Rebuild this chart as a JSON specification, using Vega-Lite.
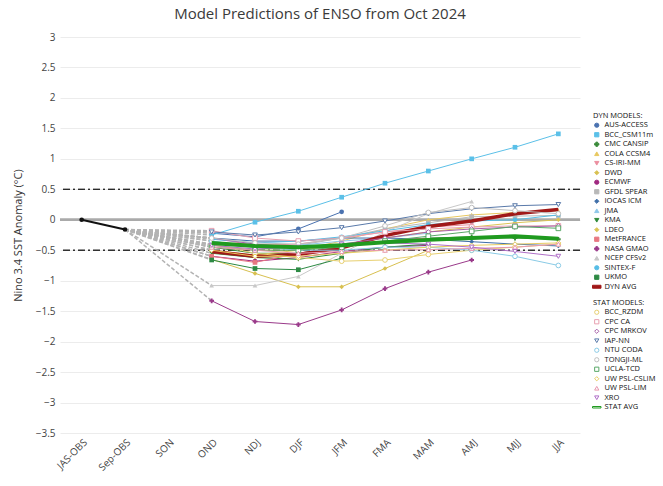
{
"$schema":"https://vega.github.io/schema/vega-lite/v6.json",
"width":520,"height":396,
"autosize":"none",
"padding":{"left":60,"top":37,"right":83,"bottom":53},
"title":{"text":"Model Predictions of ENSO from Oct 2024","fontSize":15,"fontWeight":"normal","color":"#3a3a3a","font":"Open Sans","anchor":"middle","frame":"group","offset":10},
"config":{"view":{"stroke":null},"font":"Open Sans",
"axis":{"labelFont":"Open Sans","labelFontSize":10,"labelColor":"#444","gridColor":"#ececec","domain":false,"ticks":false,"titleFont":"Open Sans","titleFontWeight":"normal","titleColor":"#333","labelOverlap":false},
"legend":{"labelFontSize":7.5,"labelColor":"#111","titleFontSize":7.5,"titleColor":"#111","titleFontWeight":"normal","symbolSize":18,"symbolStrokeWidth":1,"rowPadding":0.5,"titlePadding":2,"labelOffset":4,"labelLimit":120,"padding":0}},
"datasets":{
"obs":[{"s":"JAS-OBS","v":0},{"s":"Sep-OBS","v":-0.16}],
"d":[
{"m":"AUS-ACCESS","g":"D","s":"Sep-OBS","v":-0.16},{"m":"AUS-ACCESS","g":"D","s":"OND","v":-0.22},{"m":"AUS-ACCESS","g":"D","s":"NDJ","v":-0.28},{"m":"AUS-ACCESS","g":"D","s":"DJF","v":-0.15},{"m":"AUS-ACCESS","g":"D","s":"JFM","v":0.13},
{"m":"BCC_CSM11m","g":"D","s":"Sep-OBS","v":-0.16},{"m":"BCC_CSM11m","g":"D","s":"OND","v":-0.25},{"m":"BCC_CSM11m","g":"D","s":"NDJ","v":-0.04},{"m":"BCC_CSM11m","g":"D","s":"DJF","v":0.14},{"m":"BCC_CSM11m","g":"D","s":"JFM","v":0.37},{"m":"BCC_CSM11m","g":"D","s":"FMA","v":0.6},{"m":"BCC_CSM11m","g":"D","s":"MAM","v":0.8},{"m":"BCC_CSM11m","g":"D","s":"AMJ","v":1.0},{"m":"BCC_CSM11m","g":"D","s":"MJJ","v":1.19},{"m":"BCC_CSM11m","g":"D","s":"JJA","v":1.41},
{"m":"CMC CANSIP","g":"D","s":"Sep-OBS","v":-0.16},{"m":"CMC CANSIP","g":"D","s":"OND","v":-0.45},{"m":"CMC CANSIP","g":"D","s":"NDJ","v":-0.55},{"m":"CMC CANSIP","g":"D","s":"DJF","v":-0.55},{"m":"CMC CANSIP","g":"D","s":"JFM","v":-0.45},{"m":"CMC CANSIP","g":"D","s":"FMA","v":-0.35},{"m":"CMC CANSIP","g":"D","s":"MAM","v":-0.3},{"m":"CMC CANSIP","g":"D","s":"AMJ","v":-0.28},{"m":"CMC CANSIP","g":"D","s":"MJJ","v":-0.3},{"m":"CMC CANSIP","g":"D","s":"JJA","v":-0.32},
{"m":"COLA CCSM4","g":"D","s":"Sep-OBS","v":-0.16},{"m":"COLA CCSM4","g":"D","s":"OND","v":-0.5},{"m":"COLA CCSM4","g":"D","s":"NDJ","v":-0.58},{"m":"COLA CCSM4","g":"D","s":"DJF","v":-0.5},{"m":"COLA CCSM4","g":"D","s":"JFM","v":-0.35},{"m":"COLA CCSM4","g":"D","s":"FMA","v":-0.15},{"m":"COLA CCSM4","g":"D","s":"MAM","v":0.0},{"m":"COLA CCSM4","g":"D","s":"AMJ","v":0.08},{"m":"COLA CCSM4","g":"D","s":"MJJ","v":0.12},{"m":"COLA CCSM4","g":"D","s":"JJA","v":0.15},
{"m":"CS-IRI-MM","g":"D","s":"Sep-OBS","v":-0.16},{"m":"CS-IRI-MM","g":"D","s":"OND","v":-0.3},{"m":"CS-IRI-MM","g":"D","s":"NDJ","v":-0.42},{"m":"CS-IRI-MM","g":"D","s":"DJF","v":-0.4},{"m":"CS-IRI-MM","g":"D","s":"JFM","v":-0.3},{"m":"CS-IRI-MM","g":"D","s":"FMA","v":-0.2},{"m":"CS-IRI-MM","g":"D","s":"MAM","v":-0.12},{"m":"CS-IRI-MM","g":"D","s":"AMJ","v":-0.08},
{"m":"DWD","g":"D","s":"Sep-OBS","v":-0.16},{"m":"DWD","g":"D","s":"OND","v":-0.65},{"m":"DWD","g":"D","s":"NDJ","v":-0.88},{"m":"DWD","g":"D","s":"DJF","v":-1.1},{"m":"DWD","g":"D","s":"JFM","v":-1.1},{"m":"DWD","g":"D","s":"FMA","v":-0.8},{"m":"DWD","g":"D","s":"MAM","v":-0.5},
{"m":"ECMWF","g":"D","s":"Sep-OBS","v":-0.16},{"m":"ECMWF","g":"D","s":"OND","v":-0.6},{"m":"ECMWF","g":"D","s":"NDJ","v":-0.68},{"m":"ECMWF","g":"D","s":"DJF","v":-0.62},{"m":"ECMWF","g":"D","s":"JFM","v":-0.52},{"m":"ECMWF","g":"D","s":"FMA","v":-0.45},{"m":"ECMWF","g":"D","s":"MAM","v":-0.42},
{"m":"GFDL SPEAR","g":"D","s":"Sep-OBS","v":-0.16},{"m":"GFDL SPEAR","g":"D","s":"OND","v":-0.4},{"m":"GFDL SPEAR","g":"D","s":"NDJ","v":-0.45},{"m":"GFDL SPEAR","g":"D","s":"DJF","v":-0.42},{"m":"GFDL SPEAR","g":"D","s":"JFM","v":-0.3},{"m":"GFDL SPEAR","g":"D","s":"FMA","v":-0.15},{"m":"GFDL SPEAR","g":"D","s":"MAM","v":-0.05},{"m":"GFDL SPEAR","g":"D","s":"AMJ","v":0.05},{"m":"GFDL SPEAR","g":"D","s":"MJJ","v":0.06},{"m":"GFDL SPEAR","g":"D","s":"JJA","v":0.07},
{"m":"IOCAS ICM","g":"D","s":"Sep-OBS","v":-0.16},{"m":"IOCAS ICM","g":"D","s":"OND","v":-0.3},{"m":"IOCAS ICM","g":"D","s":"NDJ","v":-0.35},{"m":"IOCAS ICM","g":"D","s":"DJF","v":-0.35},{"m":"IOCAS ICM","g":"D","s":"JFM","v":-0.3},{"m":"IOCAS ICM","g":"D","s":"FMA","v":-0.3},{"m":"IOCAS ICM","g":"D","s":"MAM","v":-0.32},{"m":"IOCAS ICM","g":"D","s":"AMJ","v":-0.36},{"m":"IOCAS ICM","g":"D","s":"MJJ","v":-0.4},{"m":"IOCAS ICM","g":"D","s":"JJA","v":-0.43},
{"m":"JMA","g":"D","s":"Sep-OBS","v":-0.16},{"m":"JMA","g":"D","s":"OND","v":-0.35},{"m":"JMA","g":"D","s":"NDJ","v":-0.45},{"m":"JMA","g":"D","s":"DJF","v":-0.42},{"m":"JMA","g":"D","s":"JFM","v":-0.35},{"m":"JMA","g":"D","s":"FMA","v":-0.3},{"m":"JMA","g":"D","s":"MAM","v":-0.22},
{"m":"KMA","g":"D","s":"Sep-OBS","v":-0.16},{"m":"KMA","g":"D","s":"OND","v":-0.55},{"m":"KMA","g":"D","s":"NDJ","v":-0.62},{"m":"KMA","g":"D","s":"DJF","v":-0.65},{"m":"KMA","g":"D","s":"JFM","v":-0.55},{"m":"KMA","g":"D","s":"FMA","v":-0.45},{"m":"KMA","g":"D","s":"MAM","v":-0.4},
{"m":"LDEO","g":"D","s":"Sep-OBS","v":-0.16},{"m":"LDEO","g":"D","s":"OND","v":-0.42},{"m":"LDEO","g":"D","s":"NDJ","v":-0.5},{"m":"LDEO","g":"D","s":"DJF","v":-0.5},{"m":"LDEO","g":"D","s":"JFM","v":-0.42},{"m":"LDEO","g":"D","s":"FMA","v":-0.3},{"m":"LDEO","g":"D","s":"MAM","v":-0.2},{"m":"LDEO","g":"D","s":"AMJ","v":-0.12},{"m":"LDEO","g":"D","s":"MJJ","v":-0.05},{"m":"LDEO","g":"D","s":"JJA","v":0.0},
{"m":"MetFRANCE","g":"D","s":"Sep-OBS","v":-0.16},{"m":"MetFRANCE","g":"D","s":"OND","v":-0.6},{"m":"MetFRANCE","g":"D","s":"NDJ","v":-0.7},{"m":"MetFRANCE","g":"D","s":"DJF","v":-0.55},{"m":"MetFRANCE","g":"D","s":"JFM","v":-0.45},{"m":"MetFRANCE","g":"D","s":"FMA","v":-0.35},{"m":"MetFRANCE","g":"D","s":"MAM","v":-0.3},
{"m":"NASA GMAO","g":"D","s":"Sep-OBS","v":-0.16},{"m":"NASA GMAO","g":"D","s":"OND","v":-1.33},{"m":"NASA GMAO","g":"D","s":"NDJ","v":-1.67},{"m":"NASA GMAO","g":"D","s":"DJF","v":-1.72},{"m":"NASA GMAO","g":"D","s":"JFM","v":-1.48},{"m":"NASA GMAO","g":"D","s":"FMA","v":-1.13},{"m":"NASA GMAO","g":"D","s":"MAM","v":-0.86},{"m":"NASA GMAO","g":"D","s":"AMJ","v":-0.66},
{"m":"NCEP CFSv2","g":"D","s":"Sep-OBS","v":-0.16},{"m":"NCEP CFSv2","g":"D","s":"OND","v":-1.08},{"m":"NCEP CFSv2","g":"D","s":"NDJ","v":-1.08},{"m":"NCEP CFSv2","g":"D","s":"DJF","v":-0.93},{"m":"NCEP CFSv2","g":"D","s":"JFM","v":-0.55},{"m":"NCEP CFSv2","g":"D","s":"FMA","v":-0.2},{"m":"NCEP CFSv2","g":"D","s":"MAM","v":0.1},{"m":"NCEP CFSv2","g":"D","s":"AMJ","v":0.3},
{"m":"SINTEX-F","g":"D","s":"Sep-OBS","v":-0.16},{"m":"SINTEX-F","g":"D","s":"OND","v":-0.32},{"m":"SINTEX-F","g":"D","s":"NDJ","v":-0.38},{"m":"SINTEX-F","g":"D","s":"DJF","v":-0.35},{"m":"SINTEX-F","g":"D","s":"JFM","v":-0.28},{"m":"SINTEX-F","g":"D","s":"FMA","v":-0.18},{"m":"SINTEX-F","g":"D","s":"MAM","v":-0.08},{"m":"SINTEX-F","g":"D","s":"AMJ","v":-0.02},{"m":"SINTEX-F","g":"D","s":"MJJ","v":0.0},{"m":"SINTEX-F","g":"D","s":"JJA","v":0.08},
{"m":"UKMO","g":"D","s":"Sep-OBS","v":-0.16},{"m":"UKMO","g":"D","s":"OND","v":-0.66},{"m":"UKMO","g":"D","s":"NDJ","v":-0.8},{"m":"UKMO","g":"D","s":"DJF","v":-0.82},{"m":"UKMO","g":"D","s":"JFM","v":-0.63},
{"m":"DYN AVG","g":"D","s":"OND","v":-0.52},{"m":"DYN AVG","g":"D","s":"NDJ","v":-0.6},{"m":"DYN AVG","g":"D","s":"DJF","v":-0.57},{"m":"DYN AVG","g":"D","s":"JFM","v":-0.46},{"m":"DYN AVG","g":"D","s":"FMA","v":-0.26},{"m":"DYN AVG","g":"D","s":"MAM","v":-0.11},{"m":"DYN AVG","g":"D","s":"AMJ","v":-0.02},{"m":"DYN AVG","g":"D","s":"MJJ","v":0.1},{"m":"DYN AVG","g":"D","s":"JJA","v":0.17},
{"m":"BCC_RZDM","g":"S","s":"Sep-OBS","v":-0.16},{"m":"BCC_RZDM","g":"S","s":"OND","v":-0.4},{"m":"BCC_RZDM","g":"S","s":"NDJ","v":-0.55},{"m":"BCC_RZDM","g":"S","s":"DJF","v":-0.62},{"m":"BCC_RZDM","g":"S","s":"JFM","v":-0.68},{"m":"BCC_RZDM","g":"S","s":"FMA","v":-0.66},{"m":"BCC_RZDM","g":"S","s":"MAM","v":-0.57},{"m":"BCC_RZDM","g":"S","s":"AMJ","v":-0.5},{"m":"BCC_RZDM","g":"S","s":"MJJ","v":-0.45},{"m":"BCC_RZDM","g":"S","s":"JJA","v":-0.4},
{"m":"CPC CA","g":"S","s":"Sep-OBS","v":-0.16},{"m":"CPC CA","g":"S","s":"OND","v":-0.18},{"m":"CPC CA","g":"S","s":"NDJ","v":-0.3},{"m":"CPC CA","g":"S","s":"DJF","v":-0.35},{"m":"CPC CA","g":"S","s":"JFM","v":-0.3},{"m":"CPC CA","g":"S","s":"FMA","v":-0.2},{"m":"CPC CA","g":"S","s":"MAM","v":-0.15},{"m":"CPC CA","g":"S","s":"AMJ","v":-0.12},{"m":"CPC CA","g":"S","s":"MJJ","v":-0.1},{"m":"CPC CA","g":"S","s":"JJA","v":-0.1},
{"m":"CPC MRKOV","g":"S","s":"Sep-OBS","v":-0.16},{"m":"CPC MRKOV","g":"S","s":"OND","v":-0.3},{"m":"CPC MRKOV","g":"S","s":"NDJ","v":-0.4},{"m":"CPC MRKOV","g":"S","s":"DJF","v":-0.45},{"m":"CPC MRKOV","g":"S","s":"JFM","v":-0.4},{"m":"CPC MRKOV","g":"S","s":"FMA","v":-0.3},{"m":"CPC MRKOV","g":"S","s":"MAM","v":-0.2},{"m":"CPC MRKOV","g":"S","s":"AMJ","v":-0.15},{"m":"CPC MRKOV","g":"S","s":"MJJ","v":-0.12},{"m":"CPC MRKOV","g":"S","s":"JJA","v":-0.1},
{"m":"IAP-NN","g":"S","s":"Sep-OBS","v":-0.16},{"m":"IAP-NN","g":"S","s":"OND","v":-0.2},{"m":"IAP-NN","g":"S","s":"NDJ","v":-0.25},{"m":"IAP-NN","g":"S","s":"DJF","v":-0.2},{"m":"IAP-NN","g":"S","s":"JFM","v":-0.13},{"m":"IAP-NN","g":"S","s":"FMA","v":-0.02},{"m":"IAP-NN","g":"S","s":"MAM","v":0.1},{"m":"IAP-NN","g":"S","s":"AMJ","v":0.18},{"m":"IAP-NN","g":"S","s":"MJJ","v":0.23},{"m":"IAP-NN","g":"S","s":"JJA","v":0.25},
{"m":"NTU CODA","g":"S","s":"Sep-OBS","v":-0.16},{"m":"NTU CODA","g":"S","s":"OND","v":-0.35},{"m":"NTU CODA","g":"S","s":"NDJ","v":-0.45},{"m":"NTU CODA","g":"S","s":"DJF","v":-0.5},{"m":"NTU CODA","g":"S","s":"JFM","v":-0.5},{"m":"NTU CODA","g":"S","s":"FMA","v":-0.45},{"m":"NTU CODA","g":"S","s":"MAM","v":-0.45},{"m":"NTU CODA","g":"S","s":"AMJ","v":-0.5},{"m":"NTU CODA","g":"S","s":"MJJ","v":-0.6},{"m":"NTU CODA","g":"S","s":"JJA","v":-0.75},
{"m":"TONGJI-ML","g":"S","s":"Sep-OBS","v":-0.16},{"m":"TONGJI-ML","g":"S","s":"OND","v":-0.3},{"m":"TONGJI-ML","g":"S","s":"NDJ","v":-0.38},{"m":"TONGJI-ML","g":"S","s":"DJF","v":-0.4},{"m":"TONGJI-ML","g":"S","s":"JFM","v":-0.3},{"m":"TONGJI-ML","g":"S","s":"FMA","v":-0.1},{"m":"TONGJI-ML","g":"S","s":"MAM","v":0.12},{"m":"TONGJI-ML","g":"S","s":"AMJ","v":0.2},{"m":"TONGJI-ML","g":"S","s":"MJJ","v":0.15},{"m":"TONGJI-ML","g":"S","s":"JJA","v":0.1},
{"m":"UCLA-TCD","g":"S","s":"Sep-OBS","v":-0.16},{"m":"UCLA-TCD","g":"S","s":"OND","v":-0.45},{"m":"UCLA-TCD","g":"S","s":"NDJ","v":-0.5},{"m":"UCLA-TCD","g":"S","s":"DJF","v":-0.5},{"m":"UCLA-TCD","g":"S","s":"JFM","v":-0.45},{"m":"UCLA-TCD","g":"S","s":"FMA","v":-0.35},{"m":"UCLA-TCD","g":"S","s":"MAM","v":-0.27},{"m":"UCLA-TCD","g":"S","s":"AMJ","v":-0.19},{"m":"UCLA-TCD","g":"S","s":"MJJ","v":-0.11},{"m":"UCLA-TCD","g":"S","s":"JJA","v":-0.14},
{"m":"UW PSL-CSLIM","g":"S","s":"Sep-OBS","v":-0.16},{"m":"UW PSL-CSLIM","g":"S","s":"OND","v":-0.5},{"m":"UW PSL-CSLIM","g":"S","s":"NDJ","v":-0.6},{"m":"UW PSL-CSLIM","g":"S","s":"DJF","v":-0.6},{"m":"UW PSL-CSLIM","g":"S","s":"JFM","v":-0.55},{"m":"UW PSL-CSLIM","g":"S","s":"FMA","v":-0.5},{"m":"UW PSL-CSLIM","g":"S","s":"MAM","v":-0.45},{"m":"UW PSL-CSLIM","g":"S","s":"AMJ","v":-0.42},{"m":"UW PSL-CSLIM","g":"S","s":"MJJ","v":-0.4},{"m":"UW PSL-CSLIM","g":"S","s":"JJA","v":-0.38},
{"m":"UW PSL-LIM","g":"S","s":"Sep-OBS","v":-0.16},{"m":"UW PSL-LIM","g":"S","s":"OND","v":-0.45},{"m":"UW PSL-LIM","g":"S","s":"NDJ","v":-0.5},{"m":"UW PSL-LIM","g":"S","s":"DJF","v":-0.55},{"m":"UW PSL-LIM","g":"S","s":"JFM","v":-0.52},{"m":"UW PSL-LIM","g":"S","s":"FMA","v":-0.5},{"m":"UW PSL-LIM","g":"S","s":"MAM","v":-0.49},{"m":"UW PSL-LIM","g":"S","s":"AMJ","v":-0.47},{"m":"UW PSL-LIM","g":"S","s":"MJJ","v":-0.45},{"m":"UW PSL-LIM","g":"S","s":"JJA","v":-0.4},
{"m":"XRO","g":"S","s":"Sep-OBS","v":-0.16},{"m":"XRO","g":"S","s":"OND","v":-0.42},{"m":"XRO","g":"S","s":"NDJ","v":-0.48},{"m":"XRO","g":"S","s":"DJF","v":-0.45},{"m":"XRO","g":"S","s":"JFM","v":-0.4},{"m":"XRO","g":"S","s":"FMA","v":-0.38},{"m":"XRO","g":"S","s":"MAM","v":-0.4},{"m":"XRO","g":"S","s":"AMJ","v":-0.45},{"m":"XRO","g":"S","s":"MJJ","v":-0.52},{"m":"XRO","g":"S","s":"JJA","v":-0.6},
{"m":"STAT AVG","g":"S","s":"OND","v":-0.38},{"m":"STAT AVG","g":"S","s":"NDJ","v":-0.43},{"m":"STAT AVG","g":"S","s":"DJF","v":-0.45},{"m":"STAT AVG","g":"S","s":"JFM","v":-0.42},{"m":"STAT AVG","g":"S","s":"FMA","v":-0.37},{"m":"STAT AVG","g":"S","s":"MAM","v":-0.33},{"m":"STAT AVG","g":"S","s":"AMJ","v":-0.3},{"m":"STAT AVG","g":"S","s":"MJJ","v":-0.27},{"m":"STAT AVG","g":"S","s":"JJA","v":-0.31}
]},
"layer":[
{"data":{"name":"obs"},"mark":{"type":"rule","color":"#aaaaaa","strokeWidth":2.5},"encoding":{"y":{"datum":0,"type":"quantitative","scale":{"domain":[-3.5,3],"nice":false,"zero":false},"axis":{"values":[-3.5,-3,-2.5,-2,-1.5,-1,-0.5,0,0.5,1,1.5,2,2.5,3],"tickCount":14,"format":"~g","labelOverlap":false,"grid":true,"title":"Nino 3.4 SST Anomaly (°C)","titleFontSize":11,"titlePadding":12,"labelPadding":5}}}},
{"data":{"name":"obs"},"mark":{"type":"rule","color":"#222222","strokeWidth":1,"strokeDash":[7,3,2,3]},"encoding":{"y":{"datum":0.5,"type":"quantitative"}}},
{"data":{"name":"obs"},"mark":{"type":"rule","color":"#222222","strokeWidth":1,"strokeDash":[7,3,2,3]},"encoding":{"y":{"datum":-0.5,"type":"quantitative"}}},
{"data":{"name":"d"},"transform":[{"filter":"datum.s==='Sep-OBS' || datum.s==='OND'"}],"mark":{"type":"line","color":"#b3b3b3","strokeWidth":1.5,"strokeDash":[4,2]},
 "encoding":{"x":{"field":"s","type":"nominal","sort":["JAS-OBS","Sep-OBS","SON","OND","NDJ","DJF","JFM","FMA","MAM","AMJ","MJJ","JJA"],"scale":{"domain":["JAS-OBS","Sep-OBS","SON","OND","NDJ","DJF","JFM","FMA","MAM","AMJ","MJJ","JJA"],"paddingInner":0,"paddingOuter":0},"axis":{"title":null,"labelAngle":-45,"tickBand":"extent","labelPadding":4}},"y":{"field":"v","type":"quantitative"},"detail":{"field":"m"}}},
{"data":{"name":"obs"},"mark":{"type":"line","color":"#111111","strokeWidth":2,"point":{"filled":true,"color":"#111111","size":22}},"encoding":{"x":{"field":"s","type":"nominal","sort":["JAS-OBS","Sep-OBS","SON","OND","NDJ","DJF","JFM","FMA","MAM","AMJ","MJJ","JJA"]},"y":{"field":"v","type":"quantitative"}}},
{"data":{"name":"d"},"transform":[{"filter":"datum.g==='D' && datum.s!=='Sep-OBS'"}],
 "layer":[
  {"transform":[{"filter":"datum.m!=='DYN AVG'"}],"mark":{"type":"line","strokeWidth":1},"encoding":{"x":{"field":"s","type":"nominal","sort":["JAS-OBS","Sep-OBS","SON","OND","NDJ","DJF","JFM","FMA","MAM","AMJ","MJJ","JJA"]},"y":{"field":"v","type":"quantitative"},
   "color":{"field":"m","type":"nominal","scale":{"domain":["AUS-ACCESS","BCC_CSM11m","CMC CANSIP","COLA CCSM4","CS-IRI-MM","DWD","ECMWF","GFDL SPEAR","IOCAS ICM","JMA","KMA","LDEO","MetFRANCE","NASA GMAO","NCEP CFSv2","SINTEX-F","UKMO","DYN AVG"],"range":["#4a72b0","#5bc0e8","#3a8a3a","#e8c860","#ec8fa0","#d8c050","#a02880","#b8b8b8","#3f6ea8","#8fc8ea","#2f8a3a","#dcc455","#e87882","#9a3a8a","#c8c8c8","#56bde6","#2d8a44","#a01818"]},"legend":{"title":"DYN MODELS:","orient":"none","legendX":533,"legendY":75}}}},
  {"transform":[{"filter":"datum.m!=='DYN AVG'"}],"mark":{"type":"point","filled":true,"size":22,"opacity":1},"encoding":{"x":{"field":"s","type":"nominal","sort":["JAS-OBS","Sep-OBS","SON","OND","NDJ","DJF","JFM","FMA","MAM","AMJ","MJJ","JJA"]},"y":{"field":"v","type":"quantitative"},
   "color":{"field":"m","type":"nominal","legend":{"title":"DYN MODELS:","orient":"none","legendX":533,"legendY":75}},
   "shape":{"field":"m","type":"nominal","scale":{"domain":["AUS-ACCESS","BCC_CSM11m","CMC CANSIP","COLA CCSM4","CS-IRI-MM","DWD","ECMWF","GFDL SPEAR","IOCAS ICM","JMA","KMA","LDEO","MetFRANCE","NASA GMAO","NCEP CFSv2","SINTEX-F","UKMO","DYN AVG"],"range":["circle","square","cross","triangle-up","triangle-down","diamond","circle","square","diamond","triangle-up","triangle-down","diamond","square","cross","triangle-up","circle","square","M-2,-0.7H2V0.7H-2Z"]},"legend":{"title":"DYN MODELS:","orient":"none","legendX":533,"legendY":75}}}},
  {"transform":[{"filter":"datum.m==='DYN AVG'"}],"mark":{"type":"line","strokeWidth":3.5},"encoding":{"x":{"field":"s","type":"nominal","sort":["JAS-OBS","Sep-OBS","SON","OND","NDJ","DJF","JFM","FMA","MAM","AMJ","MJJ","JJA"]},"y":{"field":"v","type":"quantitative"},"color":{"field":"m","type":"nominal","legend":{"title":"DYN MODELS:","orient":"none","legendX":533,"legendY":75}}}}
 ]},
{"data":{"name":"d"},"transform":[{"filter":"datum.g==='S' && datum.s!=='Sep-OBS'"}],
 "layer":[
  {"transform":[{"filter":"datum.m!=='STAT AVG'"}],"mark":{"type":"line","strokeWidth":1},"encoding":{"x":{"field":"s","type":"nominal","sort":["JAS-OBS","Sep-OBS","SON","OND","NDJ","DJF","JFM","FMA","MAM","AMJ","MJJ","JJA"]},"y":{"field":"v","type":"quantitative"},
   "color":{"field":"m","type":"nominal","scale":{"domain":["BCC_RZDM","CPC CA","CPC MRKOV","IAP-NN","NTU CODA","TONGJI-ML","UCLA-TCD","UW PSL-CSLIM","UW PSL-LIM","XRO","STAT AVG"],"range":["#e8d070","#e8a0b0","#a860a8","#5a7aaa","#8acbe6","#c0c0c0","#5aa868","#e8cc60","#e898b0","#b070c8","#1f9a1f"]},"legend":{"title":"STAT MODELS:","orient":"none","legendX":533,"legendY":262}}}},
  {"transform":[{"filter":"datum.m!=='STAT AVG'"}],"mark":{"type":"point","filled":false,"size":22,"opacity":1,"strokeWidth":1,"fill":"white","fillOpacity":1},"encoding":{"x":{"field":"s","type":"nominal","sort":["JAS-OBS","Sep-OBS","SON","OND","NDJ","DJF","JFM","FMA","MAM","AMJ","MJJ","JJA"]},"y":{"field":"v","type":"quantitative"},
   "color":{"field":"m","type":"nominal","legend":{"title":"STAT MODELS:","orient":"none","legendX":533,"legendY":262}},
   "shape":{"field":"m","type":"nominal","scale":{"domain":["BCC_RZDM","CPC CA","CPC MRKOV","IAP-NN","NTU CODA","TONGJI-ML","UCLA-TCD","UW PSL-CSLIM","UW PSL-LIM","XRO","STAT AVG"],"range":["circle","square","diamond","triangle-down","circle","circle","square","diamond","triangle-up","triangle-down","M-2,-0.35H2V0.35H-2Z"]},"legend":{"title":"STAT MODELS:","orient":"none","legendX":533,"legendY":262}}}},
  {"transform":[{"filter":"datum.m==='STAT AVG'"}],"mark":{"type":"line","strokeWidth":4},"encoding":{"x":{"field":"s","type":"nominal","sort":["JAS-OBS","Sep-OBS","SON","OND","NDJ","DJF","JFM","FMA","MAM","AMJ","MJJ","JJA"]},"y":{"field":"v","type":"quantitative"},"color":{"field":"m","type":"nominal","legend":{"title":"STAT MODELS:","orient":"none","legendX":533,"legendY":262}}}}
 ]}
],
"resolve":{"scale":{"color":"independent","shape":"independent"}}
}
